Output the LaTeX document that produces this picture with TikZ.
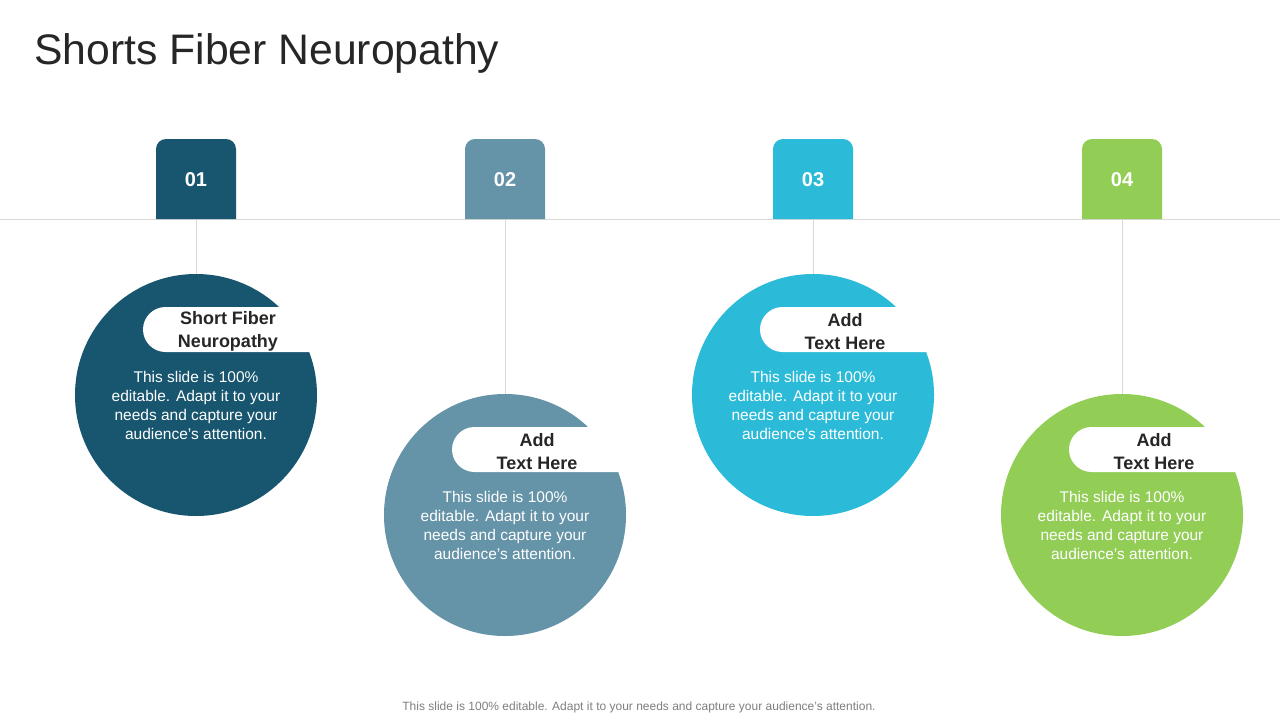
\documentclass[tikz,border=0pt]{standalone}
\usepackage{fontspec}
\setmainfont{Liberation Sans}
\definecolor{cA}{HTML}{18556F}
\definecolor{cB}{HTML}{6593A8}
\definecolor{cC}{HTML}{2BBBD8}
\definecolor{cD}{HTML}{92CD55}
\definecolor{linegray}{HTML}{D9D9D9}
\definecolor{titlegray}{HTML}{262626}
\definecolor{headdark}{HTML}{262626}
\definecolor{footgray}{HTML}{7F7F7F}
\tikzset{
  tabbox/.style={rectangle, minimum width=80pt, minimum height=80pt, inner sep=0pt, text=white, font=\bfseries\fontsize{20}{24}\selectfont},
  bigcircle/.style={circle, minimum size=242pt, inner sep=0pt},
  conn/.style={draw=linegray, line width=0.8pt},
  headtext/.style={align=center, text=headdark, font=\bfseries\fontsize{18}{23}\selectfont},
  bodytext/.style={align=center, text=white, font=\fontsize{15.5}{19}\selectfont},
}
\begin{document}
\begin{tikzpicture}[x=1pt,y=-1pt]
\useasboundingbox[fill=white] (0,0) rectangle (1280,720);
\node[anchor=base west, inner sep=0pt, text=titlegray, font=\fontsize{42.7}{50}\selectfont] (title) at (34,64) {Shorts Fiber Neuropathy};
\coordinate (hl) at (0,219);
\coordinate (hr) at (1280,219);
\draw[conn] (hl) -- (hr);
% columns
\foreach \i/\x/\y/\col/\head in {1/196/395/cA/{Short Fiber\\Neuropathy},2/505/515/cB/{Add\\Text Here},3/813/395/cC/{Add\\Text Here},4/1122/515/cD/{Add\\Text Here}}{
  \fill[\col] (\x-40,219) [rounded corners=10pt] -- (\x-40,139) -- (\x+40,139) [sharp corners] -- (\x+40,219) -- cycle;
  \node[tabbox] (t\i) at (\x,180) {0\i};
  \node[bigcircle, fill=\col] (c\i) at (\x,\y) {};
  \draw[conn] (t\i.south) -- (c\i.north);
  \fill[white, rounded corners=22.5pt] (\x-53,\y-88) rectangle (\x+150,\y-43);
  \node[headtext] (h\i) at (\x+32,\y-63.5) {\head};
  \node[bodytext] (b\i) at (\x,\y+10.5) {This slide is 100\%\\editable. Adapt it to your\\needs and capture your\\audience's attention.};
}
\node[text=footgray, font=\fontsize{12}{14}\selectfont] (foot) at (639,707) {This slide is 100\% editable. Adapt it to your needs and capture your audience's attention.};
\end{tikzpicture}
\end{document}
